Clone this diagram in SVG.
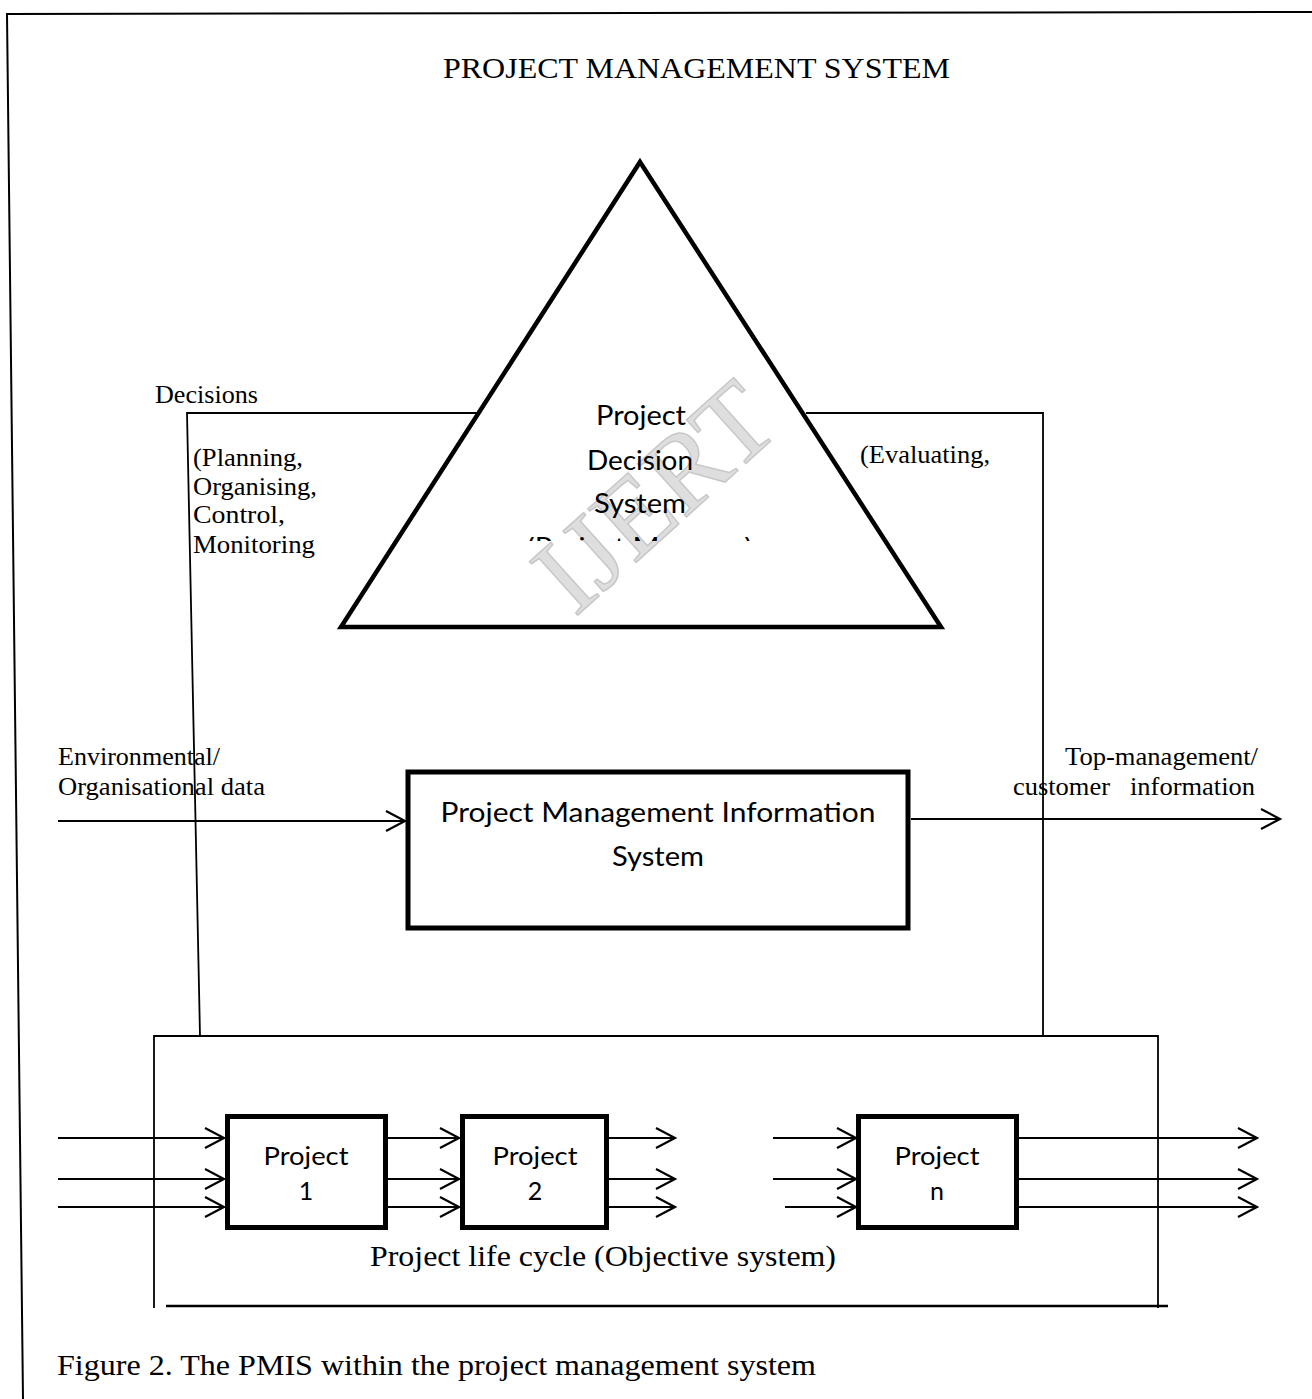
<svg xmlns="http://www.w3.org/2000/svg" width="1312" height="1399" viewBox="0 0 1312 1399">
  <style>
    .serif { font-family: "Liberation Serif", "Times New Roman", serif; fill: #000; }
    .sans { font-family: Lato, "Liberation Sans", sans-serif; fill: #000; }
    .thin { fill: none; stroke: #000; stroke-width: 1.8; }
    .arrow { fill: none; stroke: #000; stroke-width: 2.2; marker-end: url(#chev); }
    .node { fill: #fff; stroke: #000; stroke-width: 5; }
    .mark { font-family: "Liberation Serif", serif; font-size: 110px; fill: #dedede; stroke: #c8c8c8; stroke-width: 1.5; }
  </style>
  <defs>
    <marker id="chev" markerUnits="userSpaceOnUse" markerWidth="24" markerHeight="24" refX="19" refY="10" orient="auto" overflow="visible">
      <path d="M0,0 L19,10 L0,20" fill="none" stroke="#000" stroke-width="2.2"/>
    </marker>
    <clipPath id="cutline">
      <rect x="500" y="537" width="280" height="4"/>
    </clipPath>
  </defs>

  <rect width="1312" height="1399" fill="#fff"/>

  <!-- page frame -->
  <path d="M1312,12 L7,14 L23,1399" fill="none" stroke="#000" stroke-width="2"/>

  <text class="serif" x="443" y="78" font-size="30" textLength="507" lengthAdjust="spacingAndGlyphs">PROJECT MANAGEMENT SYSTEM</text>

  <!-- watermark -->
  <text class="mark" transform="translate(662,505) rotate(-42)" text-anchor="middle" dominant-baseline="middle">IJERT</text>

  <!-- connectors -->
  <g id="connectors">
    <polyline class="thin" points="477,413 187,413 200,1036"/>
    <polyline class="thin" points="806,413 1043,413 1043,1036"/>
    <path class="arrow" d="M58,821 H405"/>
    <path class="arrow" d="M911,819 H1280"/>
    <!-- inputs to project 1 -->
    <path class="arrow" d="M58,1138 H224"/>
    <path class="arrow" d="M58,1179 H224"/>
    <path class="arrow" d="M58,1207 H224"/>
    <!-- project 1 to project 2 -->
    <path class="arrow" d="M388,1138 H459"/>
    <path class="arrow" d="M388,1179 H459"/>
    <path class="arrow" d="M388,1207 H459"/>
    <!-- out of project 2 -->
    <path class="arrow" d="M609,1138 H675"/>
    <path class="arrow" d="M609,1179 H675"/>
    <path class="arrow" d="M609,1207 H675"/>
    <!-- into project n -->
    <path class="arrow" d="M773,1138 H856"/>
    <path class="arrow" d="M773,1179 H856"/>
    <path class="arrow" d="M785,1207 H856"/>
    <!-- out of project n -->
    <path class="arrow" d="M1019,1138 H1257"/>
    <path class="arrow" d="M1019,1179 H1257"/>
    <path class="arrow" d="M1019,1207 H1257"/>
  </g>

  <!-- decision labels -->
  <g id="decisions-label">
    <text class="serif" x="155" y="403" font-size="26" textLength="103" lengthAdjust="spacingAndGlyphs">Decisions</text>
    <text class="serif" x="193" y="466" font-size="26" textLength="110" lengthAdjust="spacingAndGlyphs">(Planning,</text>
    <text class="serif" x="193" y="495" font-size="26" textLength="124" lengthAdjust="spacingAndGlyphs">Organising,</text>
    <text class="serif" x="193" y="523" font-size="26" textLength="92" lengthAdjust="spacingAndGlyphs">Control,</text>
    <text class="serif" x="193" y="553" font-size="26" textLength="122" lengthAdjust="spacingAndGlyphs">Monitoring</text>
  </g>
  <g id="evaluation-label">
    <text class="serif" x="860" y="463" font-size="26" textLength="130" lengthAdjust="spacingAndGlyphs">(Evaluating,</text>
  </g>

  <!-- project decision system -->
  <g id="decision-system">
    <polygon points="640,162 941,627 341,627" fill="none" stroke="#000" stroke-width="4.5" stroke-linejoin="miter"/>
    <text class="sans" x="641" y="425" font-size="27" text-anchor="middle" textLength="90" lengthAdjust="spacingAndGlyphs">Project</text>
    <text class="sans" x="640" y="470" font-size="27" text-anchor="middle" textLength="106" lengthAdjust="spacingAndGlyphs">Decision</text>
    <text class="sans" x="640" y="513" font-size="27" text-anchor="middle" textLength="92" lengthAdjust="spacingAndGlyphs">System</text>
    <text class="sans" x="527" y="557" font-size="27" textLength="225" lengthAdjust="spacingAndGlyphs" clip-path="url(#cutline)">(Project Manager)</text>
  </g>

  <g id="env-label">
    <text class="serif" x="58" y="765" font-size="26" textLength="162" lengthAdjust="spacingAndGlyphs">Environmental/</text>
    <text class="serif" x="58" y="795" font-size="26" textLength="207" lengthAdjust="spacingAndGlyphs">Organisational data</text>
  </g>
  <g id="top-label">
    <text class="serif" x="1065" y="765" font-size="26" textLength="193" lengthAdjust="spacingAndGlyphs">Top-management/</text>
    <text class="serif" x="1013" y="795" font-size="26" textLength="97" lengthAdjust="spacingAndGlyphs">customer</text>
    <text class="serif" x="1130" y="795" font-size="26" textLength="125" lengthAdjust="spacingAndGlyphs">information</text>
  </g>

  <!-- PMIS -->
  <g id="pmis">
    <rect class="node" x="408" y="772" width="500" height="156"/>
    <text class="sans" x="658" y="822" font-size="27" text-anchor="middle" textLength="435" lengthAdjust="spacingAndGlyphs">Project Management Information</text>
    <text class="sans" x="658" y="866" font-size="27" text-anchor="middle" textLength="92" lengthAdjust="spacingAndGlyphs">System</text>
  </g>

  <!-- objective system frame -->
  <g id="life-cycle">
    <path class="thin" d="M154,1308 V1036 H1158 V1308"/>
    <path d="M166,1306 H1168" fill="none" stroke="#000" stroke-width="2.6"/>
    <text class="serif" x="370" y="1266" font-size="30" textLength="466" lengthAdjust="spacingAndGlyphs">Project life cycle (Objective system)</text>
  </g>

  <g id="project-1">
    <rect class="node" x="227.5" y="1116.5" width="158" height="111"/>
    <text class="sans" x="306" y="1165" font-size="25" text-anchor="middle" textLength="85" lengthAdjust="spacingAndGlyphs">Project</text>
    <text class="sans" x="306" y="1200" font-size="25" text-anchor="middle">1</text>
  </g>
  <g id="project-2">
    <rect class="node" x="462.5" y="1116.5" width="144" height="111"/>
    <text class="sans" x="535" y="1165" font-size="25" text-anchor="middle" textLength="85" lengthAdjust="spacingAndGlyphs">Project</text>
    <text class="sans" x="535" y="1200" font-size="25" text-anchor="middle">2</text>
  </g>
  <g id="project-n">
    <rect class="node" x="858.5" y="1116.5" width="158" height="111"/>
    <text class="sans" x="937" y="1165" font-size="25" text-anchor="middle" textLength="85" lengthAdjust="spacingAndGlyphs">Project</text>
    <text class="sans" x="937" y="1200" font-size="25" text-anchor="middle">n</text>
  </g>

  <text class="serif" x="57" y="1375" font-size="30" textLength="759" lengthAdjust="spacingAndGlyphs">Figure 2. The PMIS within the project management system</text>
</svg>
